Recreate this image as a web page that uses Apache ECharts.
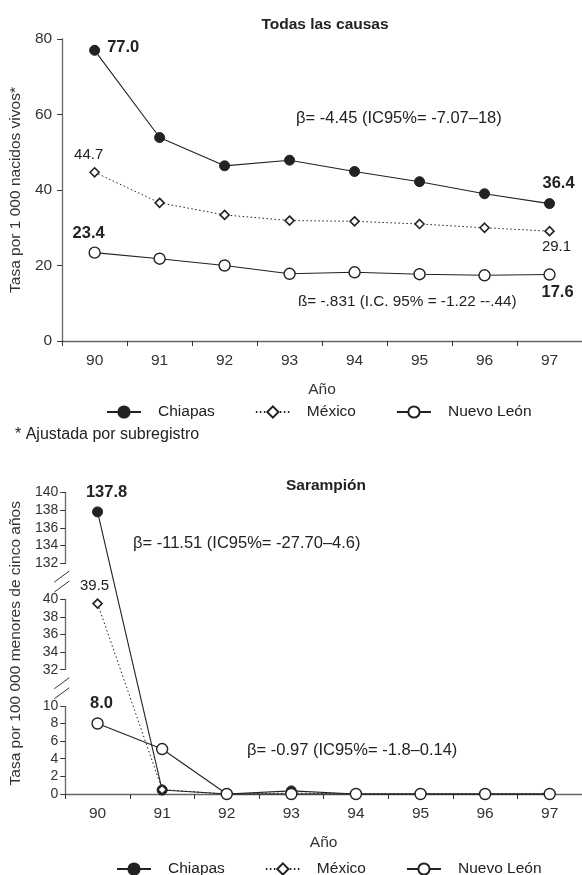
<!DOCTYPE html>
<html><head><meta charset="utf-8">
<script src="https://cdn.jsdelivr.net/npm/echarts@6/dist/echarts.min.js"></script>
<style>html,body{margin:0;padding:0;background:#fff}#c{width:582px;height:875px}</style>
</head><body><div id="c"></div>
<script>
// ---- data ----
const years = ['90', '91', '92', '93', '94', '95', '96', '97'];
const seriesNames = ['Chiapas', 'México', 'Nuevo León'];
// Todas las causas (tasa por 1 000 nacidos vivos)
const chiapasTotal = [77.0, 53.9, 46.4, 47.9, 44.9, 42.2, 39.0, 36.4];
const mexicoTotal = [44.7, 36.6, 33.4, 31.9, 31.7, 31.0, 30.0, 29.1];
const nuevoLeonTotal = [23.4, 21.8, 20.0, 17.8, 18.2, 17.7, 17.4, 17.6];
// Sarampión (tasa por 100 000 menores de cinco años)
const chiapasMeasles = [137.8, 0.45, 0, 0.35, 0, 0, 0, 0];
const mexicoMeasles = [39.5, 0.5, 0, 0.1, 0, 0, 0, 0];
const nuevoLeonMeasles = [8.0, 5.1, 0, 0, 0, 0, 0, 0];
// axis breaks of the measles chart
const measlesBreaks = [[10, 32], [40, 132]];
// texts
const titles = ['Todas las causas', 'Sarampión'];
const yNames = ['Tasa por 1 000 nacidos vivos*', 'Tasa por 100 000 menores de cinco años'];
const xName = 'Año';
const notes = [
  'β= -4.45 (IC95%= -7.07–18)',
  'ß= -.831 (I.C. 95% = -1.22 --.44)',
  'β= -11.51 (IC95%= -27.70–4.6)',
  'β= -0.97 (IC95%= -1.8–0.14)'
];
const footnote = '* Ajustada por subregistro';

// ---- style ----
const FONT = "'Liberation Sans', Arial, sans-serif";
const INK = '#222';
const AXIS = '#666';

const chart = echarts.init(document.getElementById('c'));

function labelled(values, labels) {
  return values.map((v, i) => labels[i]
    ? { value: v, label: Object.assign({ show: true }, labels[i]) }
    : v);
}
const baseLabel = {
  formatter: p => Number(p.value).toFixed(1),
  fontFamily: FONT, fontSize: 15, color: INK
};
const B = { fontWeight: 'bold', fontSize: 16.5 };

const styles = [
  { symbol: 'circle', symbolSize: 10, itemStyle: { color: INK, borderColor: INK, borderWidth: 1 }, lineStyle: { color: INK, width: 1.1, type: 'solid' } },
  { symbol: 'diamond', symbolSize: 9, itemStyle: { color: '#fff', borderColor: INK, borderWidth: 1.6 }, lineStyle: { color: INK, width: 1, type: [1.5, 2.5] } },
  { symbol: 'circle', symbolSize: 11, itemStyle: { color: '#fff', borderColor: INK, borderWidth: 1.4 }, lineStyle: { color: INK, width: 1.1, type: 'solid' } }
];

function mkSeries(name, idx, gridIdx, data) {
  return Object.assign({
    type: 'line', name, xAxisIndex: gridIdx, yAxisIndex: gridIdx,
    data, label: Object.assign({ show: false }, baseLabel),
    showAllSymbol: true, animation: false, clip: false, z: 2 + idx
  }, styles[idx]);
}

const xAxisBase = (gi) => ({
  type: 'category', gridIndex: gi, data: years, boundaryGap: true,
  name: xName, nameLocation: 'middle', nameGap: 41,
  nameTextStyle: { fontFamily: FONT, fontSize: 15.5, color: '#333' },
  axisLine: { lineStyle: { color: AXIS, width: 1.3 } },
  axisTick: { show: true, length: 5, lineStyle: { color: '#333' } },
  axisLabel: { fontFamily: FONT, fontSize: 15.5, color: '#333', margin: 12 },
  splitLine: { show: false }
});

const legendBase = (left, top) => ({
  data: seriesNames, left, top, itemWidth: 34, itemHeight: 14, itemGap: 40,
  textStyle: { fontFamily: FONT, fontSize: 15.5, color: INK, padding: [0, 0, 0, 12] }
});

const option = {
  backgroundColor: '#fff',
  animation: false,
  textStyle: { fontFamily: FONT },
  title: [
    { text: titles[0], left: 320, top: 12, textAlign: 'center', textStyle: { fontFamily: FONT, fontSize: 15.5, fontWeight: 'bold', color: INK } },
    { text: titles[1], left: 321, top: 473, textAlign: 'center', textStyle: { fontFamily: FONT, fontSize: 15.5, fontWeight: 'bold', color: INK } }
  ],
  legend: [legendBase(101, 399), legendBase(111, 856)],
  grid: [
    { left: 57.5, width: 525, top: 39, height: 302 },
    { left: 57.5, width: 525, top: 492.5, height: 301.5 }
  ],
  xAxis: [xAxisBase(0), xAxisBase(1)],
  yAxis: [
    { type: 'value', gridIndex: 0, min: 0, max: 80, interval: 20,
      name: yNames[0], nameLocation: 'middle', nameGap: 30,
      nameTextStyle: { fontFamily: FONT, fontSize: 15.5, color: '#333' },
      axisLine: { show: true, lineStyle: { color: AXIS, width: 1.3 } },
      axisTick: { show: true, length: 5, lineStyle: { color: '#333' } },
      axisLabel: { fontFamily: FONT, fontSize: 15.5, color: '#333', margin: 10 },
      splitLine: { show: false } },
    { type: 'value', gridIndex: 1, min: 0, max: 140, interval: 2,
      breaks: measlesBreaks.map(b => ({ start: b[0], end: b[1], gap: '12%' })),
      breakArea: { show: false },
      name: yNames[1], nameLocation: 'middle', nameGap: 33,
      nameTextStyle: { fontFamily: FONT, fontSize: 15.5, color: '#333' },
      axisLine: { show: true, lineStyle: { color: AXIS, width: 1.3 } },
      axisTick: { show: true, length: 5, lineStyle: { color: '#333' } },
      axisLabel: { fontFamily: FONT, fontSize: 14, color: '#333', margin: 7 },
      splitLine: { show: false } }
  ],
  series: [
    mkSeries(seriesNames[0], 0, 0, labelled(chiapasTotal, {
      0: Object.assign({ position: 'right', distance: 7, offset: [0, -3] }, B),
      7: Object.assign({ position: 'top', distance: 6, offset: [9, 0] }, B)
    })),
    mkSeries(seriesNames[1], 1, 0, labelled(mexicoTotal, {
      0: { position: 'top', distance: 5, offset: [-6, 0] },
      7: { position: 'bottom', distance: 3, offset: [7, 0] }
    })),
    mkSeries(seriesNames[2], 2, 0, labelled(nuevoLeonTotal, {
      0: Object.assign({ position: 'top', distance: 5, offset: [-6, 0] }, B),
      7: Object.assign({ position: 'bottom', distance: 3, offset: [8, 0] }, B)
    })),
    mkSeries(seriesNames[0], 0, 1, labelled(chiapasMeasles, {
      0: Object.assign({ position: 'top', distance: 5, offset: [9, 0] }, B)
    })),
    mkSeries(seriesNames[1], 1, 1, labelled(mexicoMeasles, {
      0: { position: 'top', distance: 5, offset: [-3, 0] }
    })),
    mkSeries(seriesNames[2], 2, 1, labelled(nuevoLeonMeasles, {
      0: Object.assign({ position: 'top', distance: 5, offset: [4, 0] }, B)
    }))
  ]
};
chart.setOption(option);

// annotations and axis break marks
function txt(text, x, y, size) {
  return { type: 'text', x, y, z: 10, style: { text, fontFamily: FONT, fontSize: size, fill: INK, align: 'left', verticalAlign: 'middle' } };
}
const g = [
  txt(notes[0], 296, 118, 16.5),
  txt(notes[1], 298, 302, 15.3),
  txt(notes[2], 133, 543, 16.5),
  txt(notes[3], 247, 750, 16.5),
  txt(footnote, 15, 435, 16)
];
const x0 = chart.convertToPixel({ xAxisIndex: 1 }, years[0]);
const x1 = chart.convertToPixel({ xAxisIndex: 1 }, years[1]);
const axisX = x0 - (x1 - x0) / 2;
measlesBreaks.forEach(b => {
  const yA = chart.convertToPixel({ yAxisIndex: 1 }, b[0]);
  const yB = chart.convertToPixel({ yAxisIndex: 1 }, b[1]);
  const yc = (yA + yB) / 2;
  g.push({ type: 'rect', z: 20, shape: { x: axisX - 3, y: yc - 5, width: 6, height: 10 }, style: { fill: '#fff' } });
  [-5, 5].forEach(d => {
    g.push({ type: 'line', z: 21, shape: { x1: axisX - 11, y1: yc + d + 6, x2: axisX + 4, y2: yc + d - 5 }, style: { stroke: '#333', lineWidth: 1 } });
  });
});
chart.setOption({ graphic: g });
</script>
</body></html>
